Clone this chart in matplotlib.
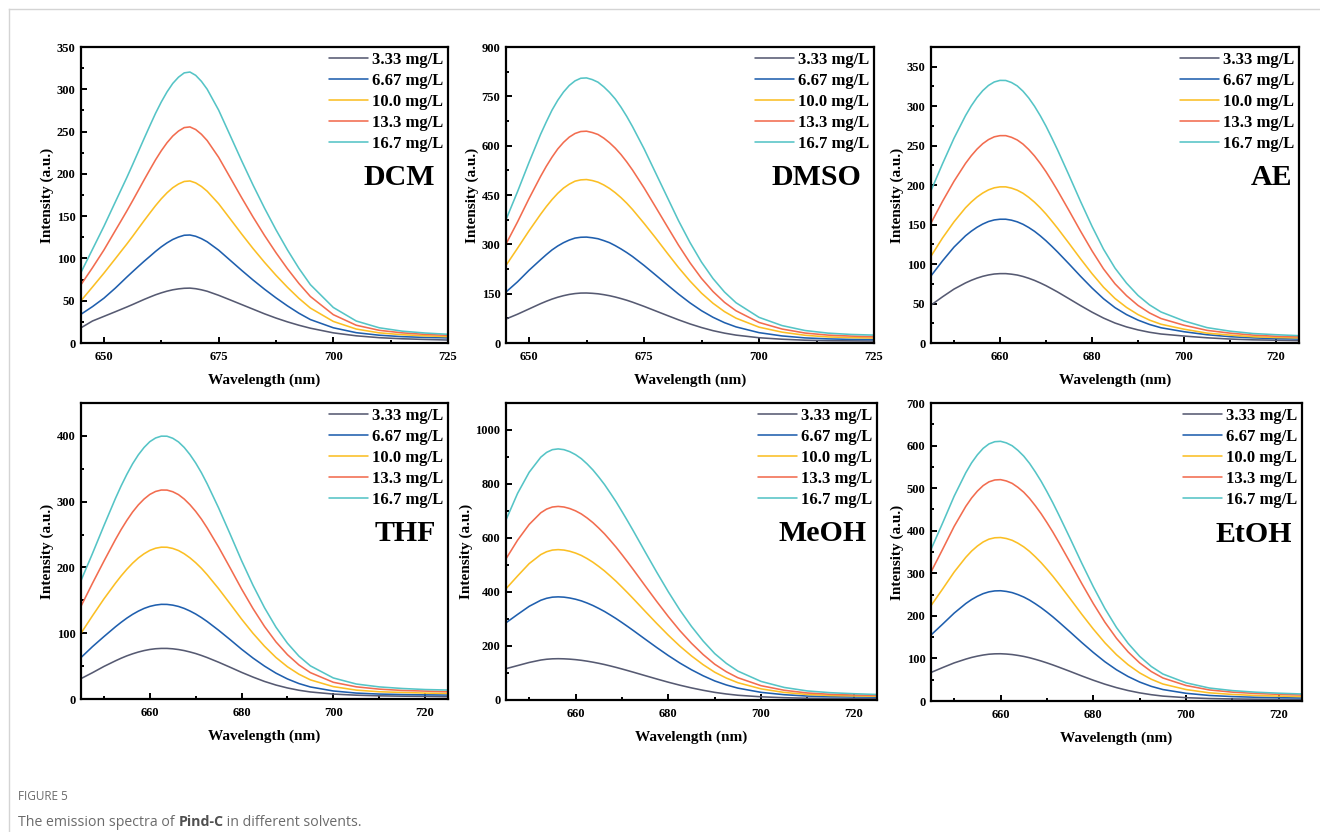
import matplotlib
matplotlib.use("Agg")
import matplotlib.pyplot as plt
from matplotlib.lines import Line2D
from matplotlib.ticker import MultipleLocator

# ---------------- data ----------------
wavelength = [645, 647.5, 650, 652.5,
              653.75, 655, 656.25, 657.5, 658.75, 660, 661.25, 662.5,
              663.75, 665, 666.25, 667.5, 668.75, 670, 671.25, 672.5,
              675, 677.5, 680, 682.5, 685, 687.5, 690, 692.5, 695,
              700, 705, 710, 715, 720, 725]

conc_labels = ["3.33 mg/L", "6.67 mg/L", "10.0 mg/L", "13.3 mg/L", "16.7 mg/L"]
solvents = ["DCM", "DMSO", "AE", "THF", "MeOH", "EtOH"]

dcm_333 = [18, 26, 31.5, 37, 39.8, 42.6, 45.5, 48.5, 51.5, 54.3, 57, 59.3, 61.3, 62.9, 64, 64.7, 64.9, 64.2, 62.9, 61.2,
           56.4, 51, 45.5, 40, 34.5, 29.5, 25, 21, 17.5, 12, 8.5, 6.3, 5, 4.2, 3.5]
dcm_667 = [34, 43, 53, 65, 71.5, 78, 84.3, 90.5, 96.6, 102.4, 108.3, 113.7, 118.4, 122.4, 125.3, 127.4, 127.7, 126.2, 123.4, 119.7,
           109.8, 97.9, 86, 74.5, 63.6, 53.4, 43.9, 35.2, 27.7, 18, 12.2, 9.2, 7.5, 6.6, 6]
dcm_100 = [50, 66.2, 82.6, 99.8, 108.5, 117.1, 126.1, 135.4, 144.6, 153.6, 162.4, 170.5, 177.6, 183.6, 188, 191, 191.6, 189.3, 185.1, 179.5,
           164.7, 146.9, 129, 111.7, 95.4, 80.1, 65.9, 52.8, 41.3, 25.5, 16.5, 12, 9.8, 8.5, 7.5]
dcm_133 = [69, 89, 110, 133.1, 144.6, 156.2, 168.2, 180.5, 192.8, 204.8, 216.6, 227.3, 236.8, 244.7, 250.6, 254.7, 255.5, 252.4, 246.8, 239.4,
           219.6, 195.8, 172, 149, 127.2, 106.8, 87.8, 70.4, 55, 33.5, 21, 15, 12, 10.2, 9]
dcm_167 = [83.5, 110.7, 138, 167, 181.4, 195.8, 210.9, 226.3, 241.7, 256.8, 271.6, 285, 296.9, 306.9, 314.3, 319.4, 320.4, 316.5, 309.4, 300.1,
           275.4, 245.6, 215.7, 186.8, 159.5, 133.9, 110.1, 88.3, 69, 42, 26, 18, 14, 11.8, 10.3]

dmso_333 = [73, 87.5, 103.5, 119.5, 126.8, 133.5, 139.2, 143.9, 147.7, 150.3, 151.8, 152, 151.1, 149.6, 147, 143.8, 139.8, 135.1, 130, 124.2,
            111.4, 97.7, 84, 70.5, 58, 47, 37.5, 30, 24, 16, 11.5, 8.5, 7, 6.5, 6]
dmso_667 = [155, 186, 221, 253, 268.5, 283, 295, 305, 313, 319, 321.5, 322, 320, 317, 311.4, 305, 296, 286, 275, 263,
            236, 207, 177.7, 148.8, 122, 98.2, 78.2, 61.8, 49, 31.5, 21.5, 15.5, 12.5, 11, 10.5]
dmso_100 = [236, 288, 341, 391, 414.5, 436, 455, 471, 483, 492, 496, 497, 494, 489, 480.6, 470, 457, 442, 425, 406,
            364, 320, 274.3, 229.6, 188.4, 151.6, 120.8, 95.4, 75.5, 48.2, 33, 23.5, 18.5, 16.5, 15]
dmso_133 = [301, 368, 439, 506, 537, 565, 590, 610, 626, 637, 643, 644, 640, 634, 623, 609, 592.5, 573, 550.6, 526,
            472, 414, 355.5, 297.5, 244, 196.4, 156.5, 123.6, 98, 62.5, 42.5, 30.3, 24, 21, 19]
dmso_167 = [375, 460, 549, 634, 672, 708, 738, 763, 783, 797, 805, 806, 801, 793, 779, 762, 742, 717, 689, 658,
            591, 518, 445, 372, 305.5, 246, 196, 155, 122.5, 78, 53, 38, 30, 26, 24]

ae_333 = [48, 58.5, 68.3, 76.1, 79.4, 82.2, 84.5, 86.2, 87.4, 87.9, 87.9, 87.2, 86.1, 84.3, 82, 79.3, 76.1, 72.6, 68.7, 64.7,
          56.1, 47.4, 39.1, 31.6, 25.3, 20.4, 16.6, 13.6, 11.4, 8.8, 6.6, 5, 4, 3.5, 3]
ae_667 = [85, 104, 121.5, 135.8, 141.6, 146.6, 150.7, 153.9, 155.9, 156.8, 156.8, 155.6, 153.5, 150.4, 146.3, 141.5, 135.8, 129.5, 122.6, 115.4,
          100.2, 84.6, 69.7, 56.1, 44.8, 36, 29, 23.5, 19.3, 14.3, 10.5, 8, 6.5, 5.5, 5]
ae_100 = [110, 133, 153.5, 171.3, 178.6, 184.9, 190, 194, 196.6, 197.8, 197.8, 196.2, 193.6, 189.7, 184.5, 178.4, 171.3, 163.4, 154.6, 145.5,
          126.3, 106.7, 87.9, 70.7, 56.4, 45.1, 36, 29, 23.8, 17.5, 12.5, 10, 8, 7, 6.5]
ae_133 = [152, 179.4, 204.9, 227.5, 237.2, 245.6, 252.5, 257.7, 261.2, 262.7, 262.7, 260.6, 257.2, 252, 245.1, 237, 227.5, 217, 205.4, 193.3,
          167.8, 141.8, 116.8, 93.9, 75, 60, 47.6, 38.1, 31, 22.5, 16, 12.5, 10, 8.5, 7.8]
ae_167 = [193, 227, 259.4, 288, 300.4, 311, 319.7, 326.3, 330.7, 332.7, 332.6, 330, 325.7, 319, 310.4, 300, 288, 274.7, 260, 244.8,
          212.5, 179.5, 147.9, 118.9, 94.9, 75.9, 60.3, 48.3, 39.3, 28, 19.5, 15, 12, 10.5, 9.3]

thf_333 = [31, 40, 49.5, 58, 62, 65.6, 68.7, 71.4, 73.6, 75.3, 76.4, 76.9, 76.9, 76.3, 75.2, 73.6, 71.5, 69.1, 66.2, 63,
           55.9, 48.3, 40.5, 33.3, 26.7, 21.2, 16.8, 13.3, 10.7, 7.5, 5.8, 4.8, 4.3, 4, 3.5]
thf_667 = [63, 79.6, 94.9, 109.7, 116.6, 123, 128.7, 133.6, 137.7, 140.8, 142.8, 143.9, 143.8, 142.7, 140.7, 137.7, 133.8, 129.2, 123.8, 117.8,
           104.5, 90.3, 75.7, 62.2, 50, 39.3, 30.5, 23.5, 18.3, 12.2, 9, 7.5, 6.8, 6.3, 6]
thf_100 = [100, 126.5, 152.2, 176, 187.1, 197.3, 206.5, 214.4, 220.8, 225.9, 229.2, 230.8, 230.7, 228.9, 225.7, 220.8, 214.6, 207.2, 198.7, 189,
           167.7, 144.8, 121.5, 99.8, 80.2, 63.1, 49, 37.7, 29.1, 18.8, 13.5, 11, 10, 9, 8.5]
thf_133 = [141, 175.9, 209.6, 242.3, 257.6, 271.6, 284.3, 295.1, 304, 311, 315.5, 317.7, 317.6, 315.1, 310.7, 304, 295.4, 285.2, 273.5, 260.1,
           230.9, 199.4, 167.3, 137.4, 110.3, 86.8, 67.4, 51.8, 40.1, 25.4, 18.5, 15, 13, 12, 11]
thf_167 = [180, 221.2, 263.6, 304.8, 324, 341.6, 357.6, 371.2, 382.4, 391.2, 396.8, 399.6, 399.5, 396.4, 390.8, 382.4, 371.6, 358.8, 344, 327.2,
           290.4, 250.8, 210.4, 172.8, 138.8, 109.2, 84.8, 65.2, 50.4, 32, 22.8, 18.4, 16, 14.4, 13.6]

meoh_333 = [116, 127.5, 139, 148, 150.9, 152.5, 153, 152.5, 151.3, 149.5, 147, 143.8, 140.1, 135.9, 131.3, 126.1, 120.7, 114.9, 108.9, 102.8,
            90.3, 77.9, 65.9, 54.8, 44.8, 36, 28.3, 22.3, 17.6, 11.8, 8.5, 6.5, 5.8, 5.3, 5]
meoh_667 = [286, 317, 347, 369.4, 376.7, 380.9, 382, 380.9, 377.8, 373.2, 367.1, 359.1, 349.9, 339.2, 327.8, 314.8, 301.4, 286.9, 272, 256.7,
            225.4, 194.4, 164.6, 136.8, 111.9, 89.8, 70.7, 55.8, 44, 28.3, 19.6, 14.5, 12, 11, 10.5]
meoh_100 = [412, 459.5, 505.2, 538.6, 549.2, 555.3, 557, 555.3, 550.9, 544.2, 535.3, 523.6, 510.2, 494.6, 477.9, 459, 439.5, 418.3, 396.6, 374.3,
            328.6, 283.5, 240, 199.4, 163.2, 130.9, 103, 81.3, 64.1, 41.2, 28, 20.5, 16.5, 15, 14]
meoh_133 = [523, 592, 650.3, 693.4, 707, 714.8, 717, 714.8, 709.1, 700.5, 689, 674, 656.8, 636.7, 615.2, 590.8, 565.7, 538.5, 510.5, 481.8,
            423, 365, 309, 256.7, 210, 168.5, 132.6, 104.7, 82.5, 53, 36, 26, 21, 18.5, 17]
meoh_167 = [667, 765.4, 843.5, 899.3, 917, 927.2, 930, 927.2, 919.8, 908.6, 893.7, 874.2, 851.9, 825.8, 797.9, 766.3, 733.8, 698.4, 662.2, 625,
            548.7, 473.4, 400.8, 333, 272.5, 218.6, 172, 135.8, 107, 68.8, 46.5, 33.5, 27, 23.3, 20.5]

etoh_333 = [67, 78.5, 89.5, 98.4, 102.3, 105.4, 108, 109.9, 110.8, 111, 110.3, 109.1, 107.1, 104.7, 101.6, 97.9, 93.9, 89.5, 84.8, 79.8,
            69.5, 58.9, 48.8, 39.5, 31.4, 24.6, 19.1, 14.8, 11.5, 7.8, 5.8, 4.8, 4.2, 3.8, 3.5]
etoh_667 = [155, 180.5, 206.5, 228.9, 238.3, 246, 252.2, 256.4, 258.6, 259, 257.4, 254.6, 249.9, 244.2, 237, 228.4, 219.1, 208.8, 197.9, 186.2,
            162.1, 137.5, 114, 92.2, 73.3, 57.5, 44.5, 34.4, 26.9, 18.1, 13, 10.4, 8.8, 7.8, 7]
etoh_100 = [224, 263, 303, 337.5, 352.1, 364, 373.6, 380.2, 383.4, 384, 381.7, 377.5, 370.6, 362.1, 351.4, 338.7, 324.9, 309.5, 293.4, 276.1,
            240.4, 203.9, 169, 136.7, 108.7, 85.2, 66, 51.1, 39.9, 26.9, 19.2, 15.4, 13, 11.5, 10.5]
etoh_133 = [303, 356.2, 410.3, 457.1, 476.8, 493, 506, 514.8, 519.2, 520, 516.9, 511.2, 501.8, 490.4, 475.8, 458.6, 439.9, 419.1, 397.3, 373.9,
            325.5, 276.1, 228.8, 185.1, 147.2, 115.4, 89.4, 69.2, 54.1, 36.4, 26, 20.8, 17.7, 15.6, 14]
etoh_167 = [356, 417.9, 481.3, 536.2, 559.4, 578.3, 593.5, 603.9, 609.1, 610, 606.3, 599.6, 588.7, 575.2, 558.2, 538, 516.1, 491.7, 466, 438.6,
            381.9, 323.9, 268.4, 217.2, 172.6, 135.4, 104.9, 81.1, 63.4, 42.7, 30.5, 24.4, 20.7, 18.3, 16.5]

panel_series = [
    [dcm_333, dcm_667, dcm_100, dcm_133, dcm_167],
    [dmso_333, dmso_667, dmso_100, dmso_133, dmso_167],
    [ae_333, ae_667, ae_100, ae_133, ae_167],
    [thf_333, thf_667, thf_100, thf_133, thf_167],
    [meoh_333, meoh_667, meoh_100, meoh_133, meoh_167],
    [etoh_333, etoh_667, etoh_100, etoh_133, etoh_167],
]

# ---------------- styling / layout ----------------
colors = ["#565a72", "#1f5fae", "#fbbf24", "#f26c4f", "#55c4c6"]
W, H = 1320, 832
SERIF = "Liberation Serif"

# (left, right, top, bottom) in pixels
boxes = [(81, 448, 47, 343), (506, 874, 47, 343), (931, 1299, 47, 343),
         (81, 448, 403, 699), (506, 877, 403, 700), (931, 1302, 403, 701)]
ylims = [350, 900, 375, 450, 1100, 700]
ymajor = [50, 150, 50, 100, 200, 100]
xmajor = [25, 25, 20, 20, 20, 20]
label_off = [13, 13, 7, 12, 10, 10]   # px from right spine for solvent name

fig = plt.figure(figsize=(W / 100, H / 100), dpi=100)
fig.patch.set_facecolor("white")

# thin grey page border (top and left)
fig.add_artist(Line2D([9 / W, 1], [1 - 9 / H, 1 - 9 / H], color="#d4d4d4", lw=1.0))
fig.add_artist(Line2D([9 / W, 9 / W], [0, 1 - 9 / H], color="#d4d4d4", lw=1.0))

for i, (l, r, t, b) in enumerate(boxes):
    ax = fig.add_axes([l / W, 1 - b / H, (r - l) / W, (b - t) / H])
    for series, c, lab in zip(panel_series[i], colors, conc_labels):
        ax.plot(wavelength, series, color=c, lw=1.15, label=lab,
                solid_joinstyle="round", solid_capstyle="round")
    ax.set_xlim(645, 725)
    ax.set_ylim(0, ylims[i])
    ax.xaxis.set_major_locator(MultipleLocator(xmajor[i]))
    ax.xaxis.set_minor_locator(MultipleLocator(xmajor[i] / 2))
    ax.yaxis.set_major_locator(MultipleLocator(ymajor[i]))
    ax.yaxis.set_minor_locator(MultipleLocator(ymajor[i] / 2))
    ax.tick_params(which="both", direction="in", width=1.4, labelsize=9, pad=4)
    ax.tick_params(which="major", length=4.5)
    ax.tick_params(which="minor", length=2.5)
    ax.tick_params(axis="x", pad=6)
    for lbl in ax.get_xticklabels() + ax.get_yticklabels():
        lbl.set_fontfamily(SERIF)
        lbl.set_fontweight("bold")
    for sp in ax.spines.values():
        sp.set_linewidth(1.6)
    ax.set_xlabel("Wavelength (nm)", fontfamily=SERIF, fontweight="bold", fontsize=11, labelpad=7.5)
    ax.set_ylabel("Intensity (a.u.)", fontfamily=SERIF, fontweight="bold", fontsize=11, labelpad=2)
    ax.legend(loc="upper right", frameon=False, handlelength=2.3, handletextpad=0.25,
              labelspacing=0.3, borderaxespad=0.1, borderpad=0.2,
              prop={"family": SERIF, "weight": "bold", "size": 12})
    width_px = r - l
    ax.text(1 - label_off[i] / width_px, 0.56, solvents[i], transform=ax.transAxes,
            ha="right", va="center", fontfamily=SERIF, fontweight="bold", fontsize=21.5)

# caption
fig.text(18 / W, 1 - 797 / H, "FIGURE 5", fontfamily="Open Sans", fontsize=8.5,
         color="#6b6b6b", va="center", ha="left")
cap_y = 1 - 822 / H
t1 = fig.text(18 / W, cap_y, "The emission spectra of ", fontfamily="Open Sans", fontsize=10.2,
              color="#6b6b6b", va="center", ha="left")
fig.canvas.draw()
bb = t1.get_window_extent()
t2 = fig.text(bb.x1 / W, cap_y, "Pind-C", fontfamily="Open Sans", fontsize=10.2,
              fontweight="bold", color="#505050", va="center", ha="left")
fig.canvas.draw()
bb2 = t2.get_window_extent()
fig.text(bb2.x1 / W, cap_y, " in different solvents.", fontfamily="Open Sans", fontsize=10.2,
         color="#6b6b6b", va="center", ha="left")

fig.savefig("out.png", dpi=100, facecolor="white")
